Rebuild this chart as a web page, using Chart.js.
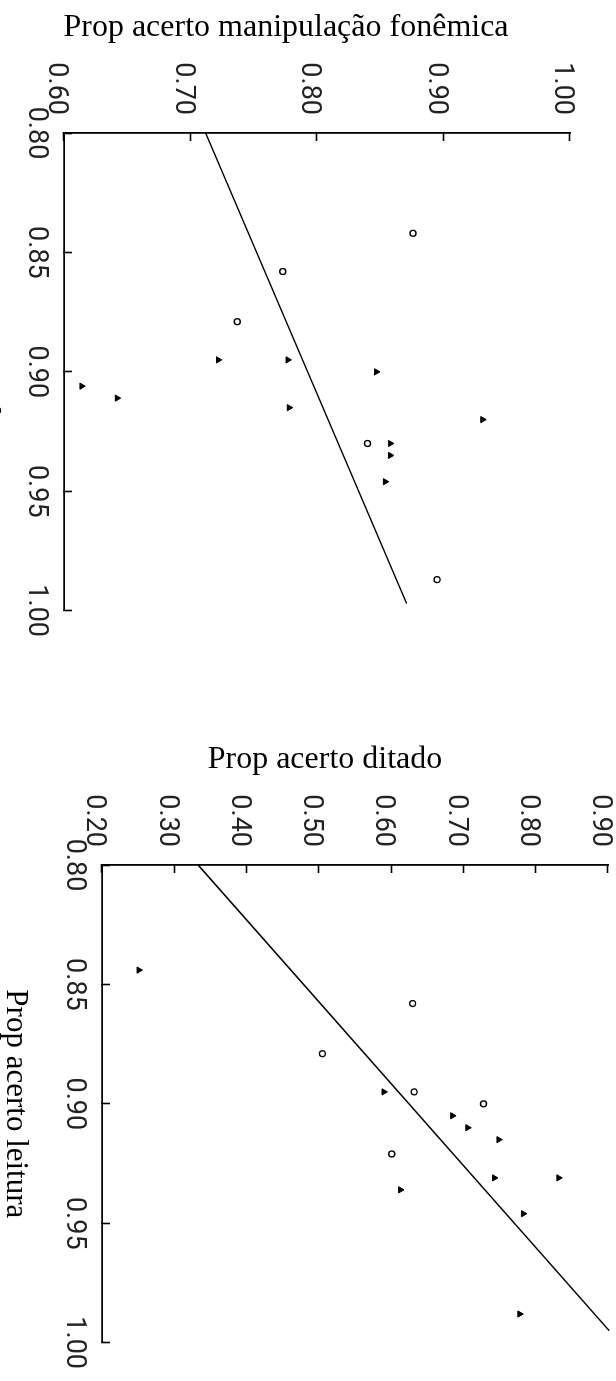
<!DOCTYPE html>
<html>
<head>
<meta charset="utf-8">
<script src="https://cdn.jsdelivr.net/npm/chart.js@4.4.1/dist/chart.umd.min.js"></script>
<style>
html, body { margin:0; padding:0; background:#fff; overflow:hidden; }
body { width:616px; height:1381px; position:relative; }
.painel { position:absolute; transform-origin:0 0; }
</style>
</head>
<body>
<div class="painel" id="p1" style="left:-40px; top:0px; transform:translateX(652px) rotate(90deg);">
  <canvas id="g1" width="657" height="652"></canvas>
</div>
<div class="painel" id="p2" style="left:0px; top:732px; transform:translateX(650px) rotate(90deg);">
  <canvas id="g2" width="657" height="650"></canvas>
</div>
<script>
// eixo comum: Prop acerto leitura
const leituraTicks = [0.80, 0.85, 0.90, 0.95, 1.00];

// grafico 1 - manipulacao fonemica
const fonTicks = [0.60, 0.70, 0.80, 0.90, 1.00];
const fonLeituraA = [0.842, 0.858, 0.879, 0.930, 0.987];
const fonValorA   = [0.876, 0.773, 0.737, 0.840, 0.895];
const fonLeituraB = [0.895, 0.895, 0.900, 0.906, 0.911, 0.915, 0.920, 0.930, 0.935, 0.946];
const fonValorB   = [0.722, 0.777, 0.847, 0.614, 0.642, 0.778, 0.931, 0.858, 0.858, 0.854];
const fonRetaLeitura = [0.80, 0.997];
const fonRetaValor   = [0.712, 0.871];

// grafico 2 - ditado
const ditTicks = [0.20, 0.30, 0.40, 0.50, 0.60, 0.70, 0.80, 0.90];
const ditLeituraA = [0.858, 0.879, 0.895, 0.900, 0.921];
const ditValorA   = [0.630, 0.505, 0.632, 0.728, 0.601];
const ditLeituraB = [0.844, 0.895, 0.905, 0.910, 0.915, 0.931, 0.931, 0.936, 0.946, 0.988];
const ditValorB   = [0.251, 0.590, 0.685, 0.706, 0.749, 0.743, 0.832, 0.613, 0.783, 0.778];
const ditRetaLeitura = [0.80, 0.995];
const ditRetaValor   = [0.333, 0.902];

function pares(xs, ys){
  return xs.map((x, i) => ({x: x, y: ys[i]}));
}

function criarGrafico(id, titulo, yTicks, lA, vA, lB, vB, rL, rV, alto, baixo, tituloPad){
  const ctx = document.getElementById(id);
  new Chart(ctx, {
    type: 'scatter',
    data: {
      datasets: [
        { data: pares(lA, vA), pointStyle: 'circle', pointRadius: 3, pointBorderWidth: 1.3,
          pointBorderColor: '#000', pointBackgroundColor: '#fff' },
        { data: pares(lB, vB), pointStyle: 'triangle', pointRadius: 3.6, pointBorderWidth: 1,
          pointBorderColor: '#000', pointBackgroundColor: '#000' },
        { data: pares(rL, rV), showLine: true, borderColor: '#000', borderWidth: 1.5,
          pointRadius: 0, clip: false }
      ]
    },
    options: {
      responsive: false,
      animation: false,
      events: [],
      layout: { padding: { top: 0, left: 0, bottom: 0, right: 40 } },
      plugins: {
        legend: { display: false },
        tooltip: { enabled: false },
        title: {
          display: true, position: 'left', text: titulo, color: '#000',
          font: { family: 'Liberation Serif', size: 32, weight: 'normal', lineHeight: 1.2 },
          padding: { top: 8, bottom: 0 }
        }
      },
      scales: {
        x: {
          type: 'linear', position: 'bottom', min: 0.80, max: 1.00,
          afterBuildTicks: s => { s.ticks = leituraTicks.map(v => ({value: v})); },
          afterFit: s => { s.height = baixo; },
          border: { color: '#000', width: 1.8 },
          grid: { drawOnChartArea: false, tickLength: -8, tickColor: '#000', tickWidth: 1.6 },
          ticks: { color: '#222', font: { family: 'Roboto', size: 27 }, padding: 20,
                   maxRotation: 0, minRotation: 0, autoSkip: false,
                   callback: v => v.toFixed(2) },
          title: { display: true, text: 'Prop acerto leitura', color: '#000',
                   font: { family: 'Liberation Serif', size: 31, lineHeight: 1.0 },
                   padding: { top: 0, bottom: tituloPad } }
        },
        y: {
          type: 'linear', position: 'left',
          min: yTicks[0], max: yTicks[yTicks.length - 1],
          afterBuildTicks: s => { s.ticks = yTicks.map(v => ({value: v})); },
          afterFit: s => { s.width = 133 - 46.4; },
          border: { color: '#000', width: 1.8 },
          grid: { drawOnChartArea: false, tickLength: -8, tickColor: '#000', tickWidth: 1.6 },
          ticks: { color: '#222', font: { family: 'Roboto', size: 27 }, padding: 26,
                   labelOffset: 8, autoSkip: false,
                   callback: v => v.toFixed(2) }
        },
        topo: {
          type: 'linear', position: 'top', display: true,
          afterFit: s => { s.height = alto; },
          ticks: { display: false },
          grid: { display: false },
          border: { display: false }
        }
      }
    }
  });
}

criarGrafico('g1', 'Prop acerto manipulação fonêmica', fonTicks,
  fonLeituraA, fonValorA, fonLeituraB, fonValorB, fonRetaLeitura, fonRetaValor, 41, 104, 12);
criarGrafico('g2', 'Prop acerto ditado', ditTicks,
  ditLeituraA, ditValorA, ditLeituraB, ditValorB, ditRetaLeitura, ditRetaValor, 40, 102, 0);
</script>
</body>
</html>
